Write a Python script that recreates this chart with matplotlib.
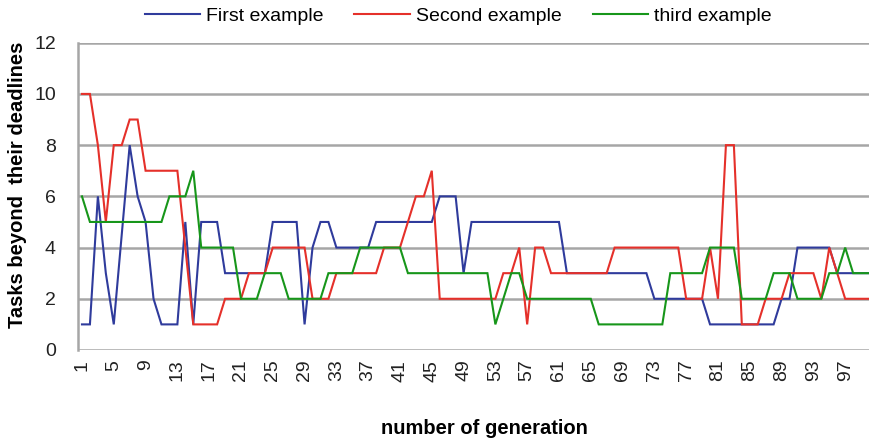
"""
Tasks beyond their deadlines per generation, three example runs.
"""

import matplotlib
matplotlib.use("Agg")
import matplotlib.pyplot as plt


generations = list(range(1, 101))

first_example = [1, 1, 6, 3, 1, 4.5, 8, 6, 5, 2,
                 1, 1, 1, 5, 1, 5, 5, 5, 3, 3,
                 3, 3, 3, 3, 5, 5, 5, 5, 1, 4,
                 5, 5, 4, 4, 4, 4, 4, 5, 5, 5,
                 5, 5, 5, 5, 5, 6, 6, 6, 3, 5,
                 5, 5, 5, 5, 5, 5, 5, 5, 5, 5,
                 5, 3, 3, 3, 3, 3, 3, 3, 3, 3,
                 3, 3, 2, 2, 2, 2, 2, 2, 2, 1,
                 1, 1, 1, 1, 1, 1, 1, 1, 2, 2,
                 4, 4, 4, 4, 4, 3, 3, 3, 3, 3]

second_example = [10, 10, 8, 5, 8, 8, 9, 9, 7, 7,
                  7, 7, 7, 4, 1, 1, 1, 1, 2, 2,
                  2, 3, 3, 3, 4, 4, 4, 4, 4, 2,
                  2, 2, 3, 3, 3, 3, 3, 3, 4, 4,
                  4, 5, 6, 6, 7, 2, 2, 2, 2, 2,
                  2, 2, 2, 3, 3, 4, 1, 4, 4, 3,
                  3, 3, 3, 3, 3, 3, 3, 4, 4, 4,
                  4, 4, 4, 4, 4, 4, 2, 2, 2, 4,
                  2, 8, 8, 1, 1, 1, 2, 2, 2, 3,
                  3, 3, 3, 2, 4, 3, 2, 2, 2, 2]

third_example = [6, 5, 5, 5, 5, 5, 5, 5, 5, 5,
                 5, 6, 6, 6, 7, 4, 4, 4, 4, 4,
                 2, 2, 2, 3, 3, 3, 2, 2, 2, 2,
                 2, 3, 3, 3, 3, 4, 4, 4, 4, 4,
                 4, 3, 3, 3, 3, 3, 3, 3, 3, 3,
                 3, 3, 1, 2, 3, 3, 2, 2, 2, 2,
                 2, 2, 2, 2, 2, 1, 1, 1, 1, 1,
                 1, 1, 1, 1, 3, 3, 3, 3, 3, 4,
                 4, 4, 4, 2, 2, 2, 2, 3, 3, 3,
                 2, 2, 2, 2, 3, 3, 4, 3, 3, 3]

series_names = ["First example", "Second example", "third example"]
series_colors = ["#2f3b9c", "#e5302a", "#17961a"]

y_ticks = [0, 2, 4, 6, 8, 10, 12]
x_ticks = list(range(1, 101, 4))

GRID = "#a6a6a6"

plt.rcParams["font.family"] = ["Liberation Sans", "DejaVu Sans"]

W, H = 869, 443
fig = plt.figure(figsize=(W / 100, H / 100), dpi=100)
# axes box in pixels: left 78, top 42.7, bottom 350, category width ~7.95 px
ax = fig.add_axes([78 / W, 1 - 350 / H, 795 / W, (350 - 42.7) / H])

for vals, name, col in zip([first_example, second_example, third_example],
                           series_names, series_colors):
    ax.plot(generations, vals, color=col, lw=1.5, label=name,
            solid_joinstyle="miter")

ax.set_xlim(0.5, 100.5)
ax.set_ylim(0, 12)
ax.set_yticks(y_ticks)
ax.set_xticks(x_ticks)
ax.set_xticklabels([str(t) for t in x_ticks], rotation=90)
ax.yaxis.grid(True, color=GRID, lw=1.8)
ax.set_axisbelow(True)

for s in ["top", "right", "bottom"]:
    ax.spines[s].set_visible(False)
ax.spines["left"].set_color(GRID)
ax.spines["left"].set_linewidth(1.8)
ax.tick_params(axis="both", length=0, labelsize=14, colors="#222222")
ax.tick_params(axis="y", pad=16)
ax.tick_params(axis="x", pad=7)

fig.text(18 / W, 1 - 185 / H, "Tasks beyond  their deadlines", rotation=90,
         ha="center", va="center", fontsize=14.5, fontweight="bold")
fig.text(484 / W, 1 - 428 / H, "number of generation",
         ha="center", va="center", fontsize=14.5, fontweight="bold")

fig.legend(loc="center", bbox_to_anchor=(458 / W, 1 - 16 / H), ncol=3,
           frameon=False, fontsize=14, handlelength=2.85, handletextpad=0.3,
           columnspacing=1.6)

fig.savefig("out.png", dpi=100)
